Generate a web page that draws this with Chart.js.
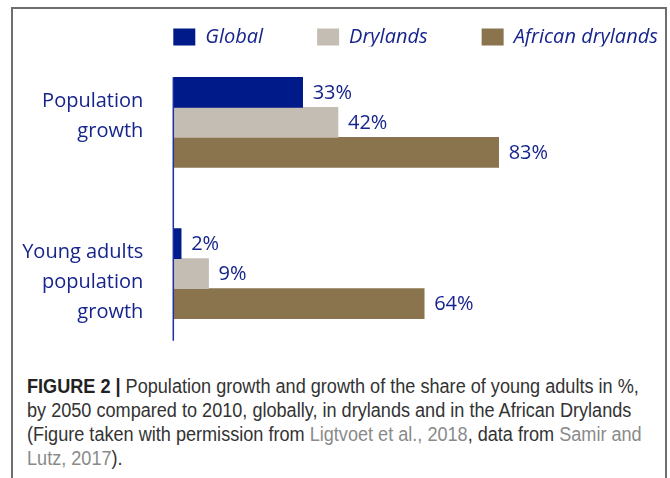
<!DOCTYPE html>
<html>
<head>
<meta charset="utf-8">
<script src="https://cdn.jsdelivr.net/npm/chart.js@4/dist/chart.umd.min.js"></script>
<style>
  html, body { margin: 0; padding: 0; background: #fff; width: 670px; height: 478px; overflow: hidden; }
  #frame { position: absolute; left: 11px; top: 7px; width: 652px; height: 520px;
           border-left: 2px solid #6e6e6e; border-top: 2px solid #6e6e6e; border-right: 2px solid #6e6e6e; }
  #wrap { position: absolute; left: 0; top: 0; width: 670px; height: 360px; }
  #cap { position: absolute; left: 27px; top: 374px; font-family: 'Liberation Sans', Arial, sans-serif;
         font-size: 20px; line-height: 24px; color: #333; white-space: nowrap;
         transform: scaleX(0.905); transform-origin: 0 0; }
  #cap b { color: #222; }
  #cap .lk { color: #8a8a8a; }
</style>
</head>
<body>
<div id="frame"></div>
<div id="wrap"><canvas id="c" width="670" height="360"></canvas></div>
<div id="cap"><b>FIGURE 2 |</b> Population growth and growth of the share of young adults in %,<br>by 2050 compared to 2010, globally, in drylands and in the African Drylands<br>(Figure taken with permission from <span class="lk">Ligtvoet et al., 2018</span>, data from <span class="lk">Samir and</span><br><span class="lk">Lutz, 2017</span>).</div>
<script>
const categories = [['Population', 'growth'], ['Young adults', 'population', 'growth']];
const seriesNames = ['Global', 'Drylands', 'African drylands'];
const globalValues = [33, 2];
const drylandsValues = [42, 9];
const africanValues = [83, 64];

const BLUE_TEXT = '#16248c';
const colors = ['#001a8a', '#c4bdb3', '#8a744d'];
const LEGEND_PAD = 54;
const LABEL_LINE = 30;      // line height of category labels
const LABEL_TOP = -21;      // first label line sits 21px above the category centre

const axisLinePlugin = {
  id: 'axisLine',
  afterLayout(chart) {
    const lg = chart.legend;
    if (lg) {
      lg.left = chart.chartArea.left - LEGEND_PAD;
      lg.right = 800;
      lg.top = 27 - LEGEND_PAD;
    }
  },
  beforeDraw(chart) {
    // top-align the multi-line category labels instead of centring them
    const items = chart.scales.y.getLabelItems();
    items.forEach(it => {
      if (it._shifted) return;
      const n = Array.isArray(it.label) ? it.label.length : 1;
      it.options.translation[1] += LABEL_TOP + (n - 1) * LABEL_LINE / 2;
      it._shifted = true;
    });
  },
  afterDatasetsDraw(chart) {
    const ctx = chart.ctx;
    const x0 = chart.scales.x.getPixelForValue(0);
    const first = chart.getDatasetMeta(0).data[0];
    const last = chart.getDatasetMeta(chart.data.datasets.length - 1).data[categories.length - 1];
    const top = first.y - first.height / 2;
    const bottom = last.y + last.height / 2 + 22;
    ctx.save();
    ctx.strokeStyle = '#1f2fa0';
    ctx.lineWidth = 1.5;
    ctx.beginPath();
    ctx.moveTo(x0, top);
    ctx.lineTo(x0, bottom);
    ctx.stroke();
    // value labels
    ctx.fillStyle = BLUE_TEXT;
    ctx.font = '20px "Open Sans"';
    ctx.textAlign = 'left';
    ctx.textBaseline = 'middle';
    chart.data.datasets.forEach((ds, di) => {
      chart.getDatasetMeta(di).data.forEach((el, i) => {
        ctx.fillText(ds.data[i] + '%', el.x + 10, el.y + 1);
      });
    });
    ctx.restore();
  }
};

new Chart(document.getElementById('c'), {
  type: 'bar',
  data: {
    labels: categories,
    datasets: [
      { label: seriesNames[0], data: globalValues, backgroundColor: colors[0] },
      { label: seriesNames[1], data: drylandsValues, backgroundColor: colors[1] },
      { label: seriesNames[2], data: africanValues, backgroundColor: colors[2] }
    ]
  },
  options: {
    indexAxis: 'y',
    responsive: false,
    animation: false,
    events: [],
    layout: { padding: { left: 0, right: 104.7, top: 0, bottom: 10.6 } },
    datasets: { bar: { barThickness: 30 } },
    scales: {
      x: { display: false, min: 0, max: 100 },
      y: {
        grid: { display: false, drawTicks: false },
        border: { display: false },
        ticks: {
          color: BLUE_TEXT,
          padding: 30,
          font: { family: 'Open Sans', size: 20, lineHeight: LABEL_LINE / 20 }
        },
        afterFit(scale) {
          scale.width = 173.3;
          scale.paddingTop = 0;
          scale.paddingBottom = 0;
        }
      }
    },
    plugins: {
      tooltip: { enabled: false },
      legend: {
        position: 'top',
        align: 'start',
        maxHeight: 46.6,
        labels: {
          boxWidth: 22,
          boxHeight: 17,
          padding: LEGEND_PAD,
          color: BLUE_TEXT,
          font: { family: 'Open Sans', size: 20, style: 'italic' }
        }
      }
    }
  },
  plugins: [axisLinePlugin]
});
</script>
</body>
</html>
